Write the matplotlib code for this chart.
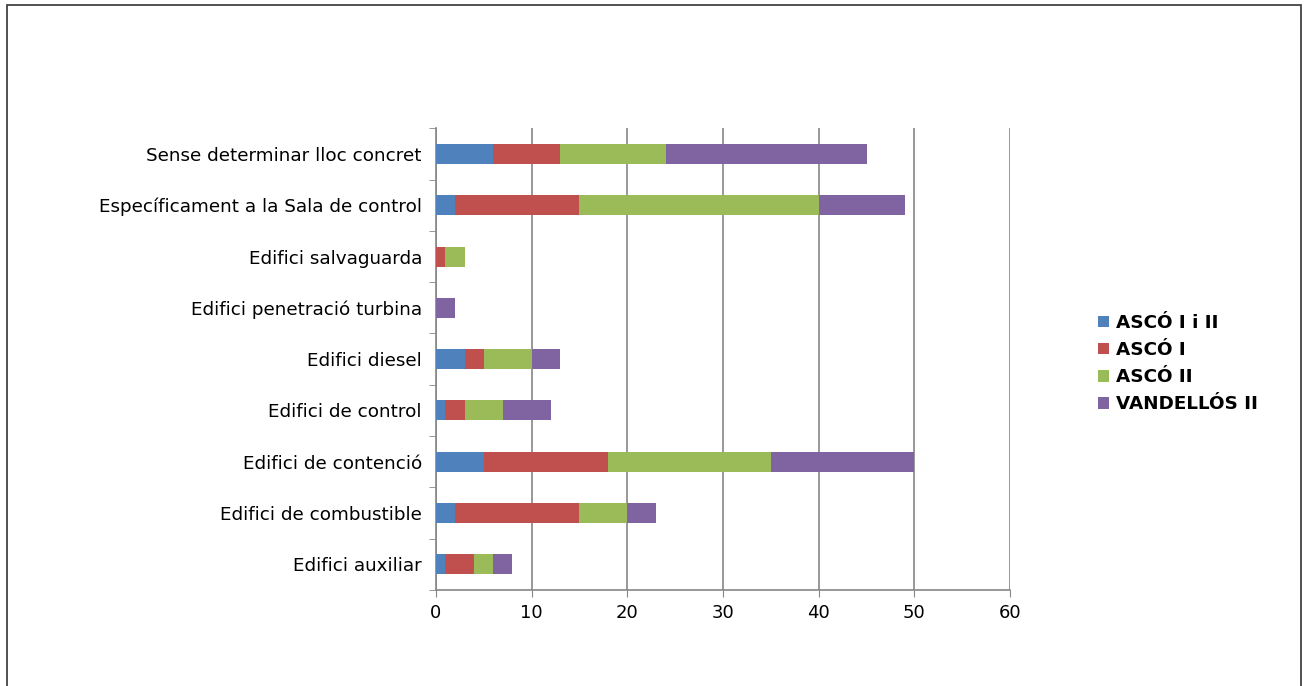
import matplotlib.pyplot as plt
import numpy as np
from matplotlib.patches import Rectangle

categories = ['Edifici auxiliar', 'Edifici de combustible', 'Edifici de contenció',
              'Edifici de control', 'Edifici diesel', 'Edifici penetració turbina',
              'Edifici salvaguarda', 'Específicament a la Sala de control',
              'Sense determinar lloc concret']
series = ['ASCÓ I i II', 'ASCÓ I', 'ASCÓ II', 'VANDELLÓS II']
asco_1_2 = [1, 2, 5, 1, 3, 0, 0, 2, 6]
asco_1 = [3, 13, 13, 2, 2, 0, 1, 13, 7]
asco_2 = [2, 5, 17, 4, 5, 0, 2, 25, 11]
vandellos_2 = [2, 3, 15, 5, 3, 2, 0, 9, 21]
colors = ['#4F81BD', '#C0504D', '#9BBB59', '#8064A2']

plt.rcParams['font.family'] = ['DejaVu Sans']

fig = plt.figure(figsize=(13.05, 6.86), dpi=100)
ax = fig.add_axes([0.334, 0.140, 0.440, 0.673])

y = np.arange(len(categories))
left = np.zeros(len(categories))
for name, vals, c in zip(series, [asco_1_2, asco_1, asco_2, vandellos_2], colors):
    ax.barh(y, vals, left=left, height=0.39, color=c, label=name, zorder=3)
    left += np.array(vals)

ax.set_xlim(0, 60)
ax.set_ylim(-0.5, len(categories) - 0.5)
ax.set_xticks(range(0, 61, 10))
ax.set_yticks(y)
ax.set_yticklabels(categories)
ax.set_yticks(np.arange(-0.5, len(categories), 1), minor=True)
ax.tick_params(axis='y', which='major', length=0, pad=10, labelsize=13.2)
ax.tick_params(axis='y', which='minor', length=5, color='#868686')
ax.tick_params(axis='x', length=5, color='#868686', labelsize=13, pad=5)
ax.grid(axis='x', color='#868686', linewidth=1.2, zorder=0)
for s in ['top', 'right']:
    ax.spines[s].set_visible(False)
for s in ['left', 'bottom']:
    ax.spines[s].set_color('#868686')
    ax.spines[s].set_linewidth(1.2)

leg = fig.legend(loc='center left', bbox_to_anchor=(0.829, 0.470), frameon=False,
                 handlelength=0.6, handleheight=0.6, handletextpad=0.35,
                 labelspacing=0.5, prop={'weight': 'bold', 'size': 13.2})

fig.patches.append(Rectangle((7 / 1305, -0.05), (1301 - 7) / 1305, 1.05 - 5 / 686,
                             transform=fig.transFigure, fill=False,
                             edgecolor='#333333', linewidth=1.2))

fig.savefig('out.png', dpi=100)
